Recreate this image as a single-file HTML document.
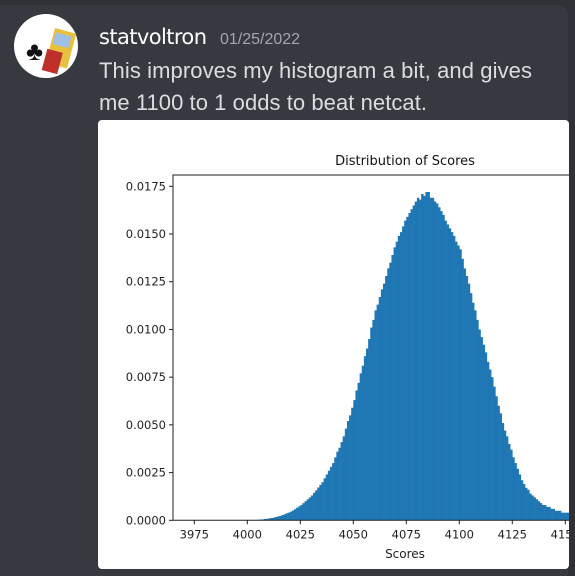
<!DOCTYPE html>
<html><head><meta charset="utf-8"><style>
body{margin:0;width:575px;height:576px;background:#2f3136;overflow:hidden;font-family:"Liberation Sans",sans-serif}
#panel{position:absolute;left:0;top:5px;width:568px;height:571px;background:#36393f;border-radius:0 10px 0 0}
</style></head><body>
<div id="panel"></div>
<svg width="575" height="576" style="position:absolute;left:0;top:0">
 <g>
  <circle cx="46" cy="46" r="32" fill="#fff"/>
  <rect x="50" y="30" width="22" height="36" fill="#e8c040" transform="rotate(15 60 48)"/>
  <rect x="52" y="34" width="16" height="12" fill="#9ec0e8" transform="rotate(15 60 48)"/>
  <rect x="48" y="52" width="16" height="22" fill="#c0302a" transform="rotate(15 60 48)"/>
  <text x="26" y="60" font-size="26" fill="#111">♣</text>
 </g>
 <text x="99" y="44" font-size="21" fill="#fff" font-family="DejaVu Sans, sans-serif" textLength="108">statvoltron</text>
 <text x="220" y="44" font-size="16" fill="#a3a6aa">01/25/2022</text>
 <text x="99" y="78" font-size="22" fill="#dcddde" textLength="433">This improves my histogram a bit, and gives</text>
 <text x="99" y="110" font-size="22" fill="#dcddde" textLength="328">me 1100 to 1 odds to beat netcat.</text>
 <rect x="98" y="120" width="471" height="449" rx="4" fill="#fff"/>
 <g id="chart" font-family="DejaVu Sans, sans-serif"></g>
</svg>
<script>
const binStart = 4000;
const binWidth = 1;
const values = [0,0.00001,0.00001,0.00002,0.00002,.00003,.00004,.00005,.00007,.00008,
.0001,.00012,.00014,.00017,.0002,.00023,.00027,.00031,.00036,.0004,
.00045,.00051,.00058,.00066,.00073,.0008,.0009,.001,.0011,.0012,
.0013,.00144,.00157,.00172,.00186,.002,.0022,.0024,.0026,.0028,
.003,.0033,.0036,.0038,.0041,.0044,.0048,.0052,.0055,.0059,
.0063,.0068,.0072,.0077,.0081,.0086,.0090,.0095,.0101,.0105,
.0110,.0113,.0117,.0121,.0124,.0128,.0132,.0135,.0139,.0143,
.0146,.0149,.0151,.0154,.0157,.0159,.0161,.0163,.0165,.0167,
.0169,.0168,.0171,.0170,.0172,.0172,.0169,.0169,.0167,.0166,
.0164,.0162,.0160,.0157,.0155,.0153,.0151,.0149,.0146,.0144,
.0142,.0137,.0132,.0128,.0124,.0119,.0114,.0110,.0105,.0100,
.0096,.0092,.0088,.0083,.0079,.0075,.0070,.0065,.0060,.0056,
.0051,.0047,.0044,.0040,.0037,.0033,.0030,.0027,.0024,.0021,
.0019,.0017,.0016,.0014,.0013,.0012,.0011,.0010,.0009,.0008,
.0008,.0007,.0007,.0006,.0006,.0005,.0005,.0005,.0004,.0004,
.0004,.0004,.0003,.0003,.0003,.0003,.0002];
const xTicks = [3975,4000,4025,4050,4075,4100,4125,4150];
const yTicks = [0,0.0025,0.005,0.0075,0.01,0.0125,0.015,0.0175];
const yTickLabels = ["0.0000","0.0025","0.0050","0.0075","0.0100","0.0125","0.0150","0.0175"];

const NS="http://www.w3.org/2000/svg";
const g=document.getElementById('chart');
const X=v=>247.3+(v-4000)*2.12;
const Y=v=>520.3-v*19086;
const L=173,R=569,T=175,B=520.3;
function mk(t,a,p){const e=document.createElementNS(NS,t);for(const k in a)e.setAttribute(k,a[k]);(p||g).appendChild(e);return e;}
const defs=mk('defs',{});const cp=mk('clipPath',{id:'pc'},defs);mk('rect',{x:L,y:T-5,width:R-L,height:B-T+30},cp);
const t=mk('text',{x:405,y:165,'font-size':13,'text-anchor':'middle',fill:'#111'});t.textContent='Distribution of Scores';


const bars=mk('g',{'clip-path':'url(#pc)'});
values.forEach((v,i)=>{
 const x0=X(binStart+i*binWidth),x1=X(binStart+(i+1)*binWidth);
 const r=mk('rect',{x:x0,y:Y(v),width:x1-x0+0.3,height:B-Y(v),fill:'#1f77b4'},bars);
 
 
});
mk('path',{d:`M${R} ${T}H${L}V${B}H${R}`,stroke:'#222',fill:'none','stroke-width':1});
const xt=mk('g',{'clip-path':'url(#pc)'});
xTicks.forEach(v=>{
 mk('line',{x1:X(v),x2:X(v),y1:B,y2:B+4,stroke:'#222'},xt);
 const l=mk('text',{x:X(v),y:B+18,'font-size':11.5,'text-anchor':'middle',fill:'#222'},xt);l.textContent=v;
 
 
});
yTicks.forEach((v,i)=>{
 mk('line',{x1:L-4,x2:L,y1:Y(v),y2:Y(v),stroke:'#222'});
 const l=mk('text',{x:L-7,y:Y(v)+4,'font-size':11.5,'text-anchor':'end',fill:'#222'});l.textContent=yTickLabels[i];
 
 
});
const xl=mk('text',{x:405,y:558,'font-size':12,'text-anchor':'middle',fill:'#222'});xl.textContent='Scores';


</script>
</body></html>
